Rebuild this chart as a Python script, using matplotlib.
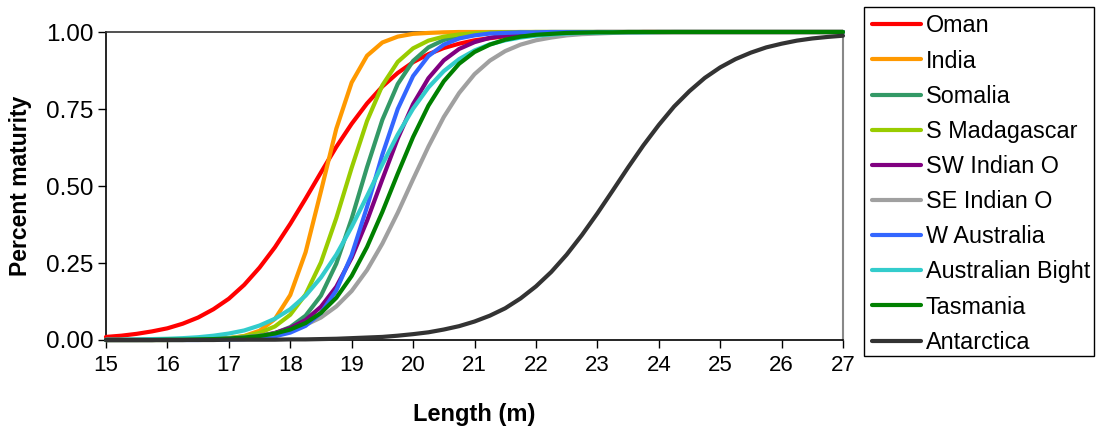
"""
Maturity ogives by region: proportion mature against body length.

Output:
    out.png  (1096 x 432 px)
"""

import matplotlib
matplotlib.use("Agg")  # no display in the sandbox
import matplotlib.pyplot as plt
from matplotlib.patches import Rectangle

plt.rcParams["font.family"] = ["Liberation Sans", "DejaVu Sans"]

# ── Data ─────────────────────────────────────────────────────────────────────
length_m = [
    15.00, 15.25, 15.50, 15.75, 16.00, 16.25, 16.50, 16.75,
    17.00, 17.25, 17.50, 17.75, 18.00, 18.25, 18.50, 18.75,
    19.00, 19.25, 19.50, 19.75, 20.00, 20.25, 20.50, 20.75,
    21.00, 21.25, 21.50, 21.75, 22.00, 22.25, 22.50, 22.75,
    23.00, 23.25, 23.50, 23.75, 24.00, 24.25, 24.50, 24.75,
    25.00, 25.25, 25.50, 25.75, 26.00, 26.25, 26.50, 26.75,
    27.00,
]

oman = [
    0.010, 0.014, 0.020, 0.028, 0.038, 0.053, 0.073, 0.100,
    0.134, 0.179, 0.235, 0.301, 0.377, 0.459, 0.544, 0.627,
    0.702, 0.768, 0.823, 0.867, 0.902, 0.928, 0.948, 0.962,
    0.973, 0.980, 0.986, 0.990, 0.993, 0.995, 0.996, 0.997,
    0.998, 0.999, 0.999, 1.000, 1.000, 1.000, 1.000, 1.000,
    1.000, 1.000, 1.000, 1.000, 1.000, 1.000, 1.000, 1.000,
    1.000,
]
india = [
    0.000, 0.000, 0.000, 0.000, 0.000, 0.000, 0.001, 0.002,
    0.006, 0.013, 0.030, 0.068, 0.146, 0.285, 0.483, 0.686,
    0.836, 0.923, 0.966, 0.985, 0.994, 0.997, 0.999, 1.000,
    1.000, 1.000, 1.000, 1.000, 1.000, 1.000, 1.000, 1.000,
    1.000, 1.000, 1.000, 1.000, 1.000, 1.000, 1.000, 1.000,
    1.000, 1.000, 1.000, 1.000, 1.000, 1.000, 1.000, 1.000,
    1.000,
]
somalia = [
    0.000, 0.000, 0.000, 0.000, 0.000, 0.000, 0.001, 0.002,
    0.003, 0.006, 0.011, 0.022, 0.042, 0.079, 0.144, 0.248,
    0.394, 0.561, 0.715, 0.831, 0.906, 0.950, 0.974, 0.987,
    0.993, 0.997, 0.998, 0.999, 1.000, 1.000, 1.000, 1.000,
    1.000, 1.000, 1.000, 1.000, 1.000, 1.000, 1.000, 1.000,
    1.000, 1.000, 1.000, 1.000, 1.000, 1.000, 1.000, 1.000,
    1.000,
]
s_madagascar = [
    0.000, 0.000, 0.000, 0.000, 0.000, 0.001, 0.002, 0.003,
    0.006, 0.012, 0.023, 0.044, 0.082, 0.148, 0.252, 0.396,
    0.559, 0.711, 0.827, 0.903, 0.947, 0.972, 0.985, 0.992,
    0.996, 0.998, 0.999, 1.000, 1.000, 1.000, 1.000, 1.000,
    1.000, 1.000, 1.000, 1.000, 1.000, 1.000, 1.000, 1.000,
    1.000, 1.000, 1.000, 1.000, 1.000, 1.000, 1.000, 1.000,
    1.000,
]
sw_indian = [
    0.000, 0.000, 0.000, 0.000, 0.001, 0.001, 0.002, 0.003,
    0.004, 0.008, 0.013, 0.023, 0.039, 0.065, 0.108, 0.173,
    0.267, 0.387, 0.522, 0.654, 0.766, 0.850, 0.908, 0.945,
    0.967, 0.981, 0.989, 0.994, 0.996, 0.998, 0.999, 0.999,
    1.000, 1.000, 1.000, 1.000, 1.000, 1.000, 1.000, 1.000,
    1.000, 1.000, 1.000, 1.000, 1.000, 1.000, 1.000, 1.000,
    1.000,
]
se_indian = [
    0.000, 0.000, 0.000, 0.001, 0.001, 0.002, 0.002, 0.004,
    0.006, 0.009, 0.014, 0.021, 0.032, 0.049, 0.073, 0.109,
    0.159, 0.227, 0.313, 0.413, 0.522, 0.628, 0.724, 0.802,
    0.863, 0.907, 0.938, 0.959, 0.973, 0.982, 0.989, 0.993,
    0.995, 0.997, 0.998, 0.999, 0.999, 1.000, 1.000, 1.000,
    1.000, 1.000, 1.000, 1.000, 1.000, 1.000, 1.000, 1.000,
    1.000,
]
w_australia = [
    0.000, 0.000, 0.000, 0.000, 0.000, 0.000, 0.000, 0.001,
    0.002, 0.003, 0.006, 0.012, 0.024, 0.046, 0.088, 0.161,
    0.276, 0.432, 0.602, 0.750, 0.857, 0.922, 0.959, 0.979,
    0.989, 0.995, 0.997, 0.999, 0.999, 1.000, 1.000, 1.000,
    1.000, 1.000, 1.000, 1.000, 1.000, 1.000, 1.000, 1.000,
    1.000, 1.000, 1.000, 1.000, 1.000, 1.000, 1.000, 1.000,
    1.000,
]
australian_bight = [
    0.001, 0.001, 0.002, 0.003, 0.004, 0.006, 0.009, 0.014,
    0.021, 0.031, 0.047, 0.069, 0.100, 0.144, 0.203, 0.277,
    0.367, 0.467, 0.570, 0.667, 0.751, 0.820, 0.873, 0.912,
    0.940, 0.960, 0.973, 0.982, 0.988, 0.992, 0.995, 0.997,
    0.998, 0.999, 0.999, 0.999, 1.000, 1.000, 1.000, 1.000,
    1.000, 1.000, 1.000, 1.000, 1.000, 1.000, 1.000, 1.000,
    1.000,
]
tasmania = [
    0.000, 0.000, 0.000, 0.000, 0.001, 0.001, 0.002, 0.003,
    0.005, 0.008, 0.013, 0.021, 0.034, 0.055, 0.088, 0.137,
    0.208, 0.302, 0.416, 0.540, 0.659, 0.761, 0.840, 0.897,
    0.935, 0.959, 0.975, 0.985, 0.991, 0.994, 0.997, 0.998,
    0.999, 0.999, 1.000, 1.000, 1.000, 1.000, 1.000, 1.000,
    1.000, 1.000, 1.000, 1.000, 1.000, 1.000, 1.000, 1.000,
    1.000,
]
antarctica = [
    0.000, 0.000, 0.000, 0.000, 0.000, 0.000, 0.000, 0.000,
    0.001, 0.001, 0.001, 0.001, 0.002, 0.002, 0.003, 0.004,
    0.006, 0.008, 0.010, 0.014, 0.019, 0.025, 0.034, 0.045,
    0.060, 0.079, 0.103, 0.135, 0.174, 0.221, 0.277, 0.341,
    0.411, 0.485, 0.560, 0.632, 0.698, 0.758, 0.808, 0.851,
    0.885, 0.912, 0.933, 0.950, 0.962, 0.972, 0.979, 0.984,
    0.988,
]

region_names = [
    "Oman", "India", "Somalia", "S Madagascar", "SW Indian O",
    "SE Indian O", "W Australia", "Australian Bight", "Tasmania", "Antarctica",
]
region_values = [
    oman, india, somalia, s_madagascar, sw_indian,
    se_indian, w_australia, australian_bight, tasmania, antarctica,
]
region_colors = [
    "#FF0000", "#FF9900", "#339966", "#99CC00", "#800080",
    "#A0A0A0", "#3366FF", "#33CCCC", "#008000", "#333333",
]

x_ticks = [15, 16, 17, 18, 19, 20, 21, 22, 23, 24, 25, 26, 27]
y_ticks = [0.0, 0.25, 0.5, 0.75, 1.0]

# ── Figure & axes (pixel layout of the reference) ────────────────────────────
W, H = 1096, 432
fig = plt.figure(figsize=(W / 100, H / 100), dpi=100)
ax = fig.add_axes([106 / W, (H - 340) / H, 737 / W, 308 / H])

for name, vals, col in zip(region_names, region_values, region_colors):
    ax.plot(length_m, vals, color=col, lw=3.0, label=name,
            solid_capstyle="round", clip_on=False, zorder=3)

ax.set_xlim(15, 27)
ax.set_ylim(0, 1)
ax.set_xticks(x_ticks)
ax.set_yticks(y_ticks)
ax.set_yticklabels([f"{v:.2f}" for v in y_ticks])
ax.tick_params(direction="out", length=6, width=1, color="black")
ax.tick_params(axis="x", pad=5, labelsize=16)
ax.tick_params(axis="y", pad=3, labelsize=17.5)

for side in ("left", "bottom", "top"):
    ax.spines[side].set_color("black")
    ax.spines[side].set_linewidth(1.2)
ax.spines["top"].set_color("#333333")
ax.spines["right"].set_color("#888888")
ax.spines["right"].set_linewidth(1.5)

ax.set_xlabel("Length (m)", fontsize=17, fontweight="bold", labelpad=19)
ax.set_ylabel("Percent maturity", fontsize=16.5, fontweight="bold", labelpad=10)

# ── Legend: entries without frame, box drawn separately ──────────────────────
leg = fig.legend(
    loc="upper left", bbox_to_anchor=(872 / W, 1 - 14.5 / H),
    frameon=False, fontsize=16.8,
    handlelength=2.1, handletextpad=0.2, labelspacing=0.52,
    borderpad=0, borderaxespad=0,
)
for line in leg.get_lines():
    line.set_linewidth(3.0)

fig.add_artist(Rectangle(
    (864 / W, 1 - 356 / H), (1094 - 864) / W, (356 - 7) / H,
    transform=fig.transFigure, fill=False, edgecolor="black", linewidth=1.0,
))

fig.savefig("out.png", dpi=100)
